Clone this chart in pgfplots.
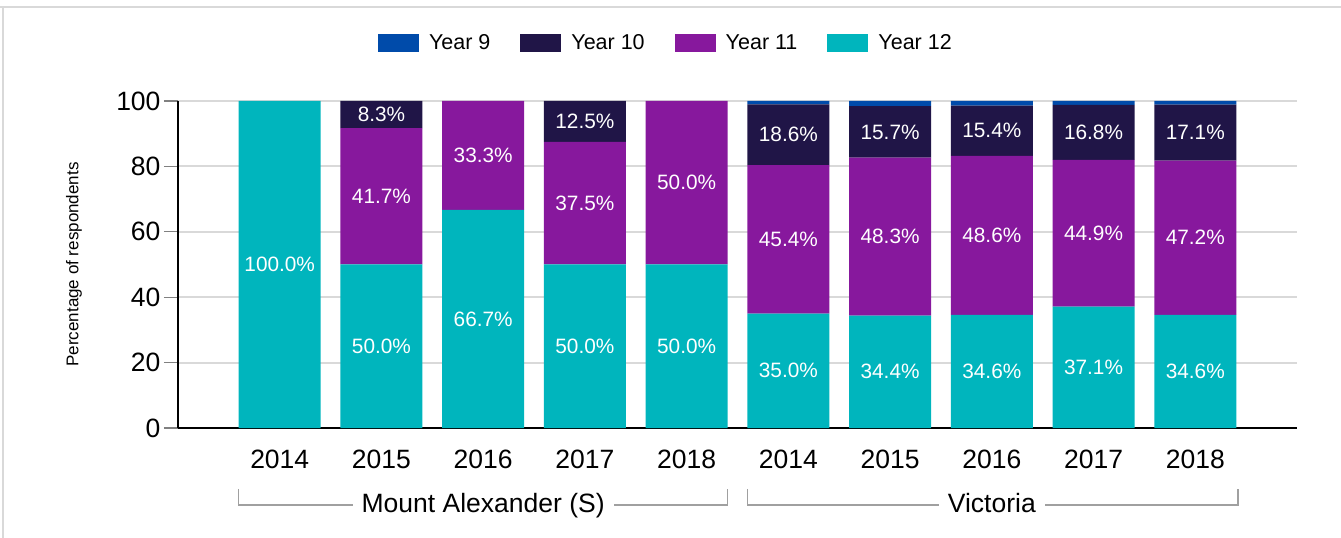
\documentclass[border=0pt]{standalone}
\usepackage{fontspec}
\setmainfont{Liberation Sans}
\usepackage{pgfplots}
\usepackage{pgfplotstable}
\pgfplotsset{compat=1.18}
\definecolor{yNine}{HTML}{004BAA}
\definecolor{yTen}{HTML}{201547}
\definecolor{yEleven}{HTML}{87189D}
\definecolor{yTwelve}{HTML}{00B5BD}
\definecolor{gridc}{HTML}{D9D9D9}
\definecolor{brk}{HTML}{A0A0A0}
\definecolor{tickc}{HTML}{808080}
\pgfplotstableread{
x y12 y11 y10 y9
0 100.0 0.0 0.0 0.0
1 50.0 41.7 8.3 0.0
2 66.7 33.3 0.0 0.0
3 50.0 37.5 12.5 0.0
4 50.0 50.0 0.0 0.0
5 35.0 45.4 18.6 1.0
6 34.4 48.3 15.7 1.6
7 34.6 48.6 15.4 1.4
8 37.1 44.9 16.8 1.2
9 34.6 47.2 17.1 1.1
}\datatable
\newcommand\lab[3]{\node[font=\fontsize{20.8}{24}\selectfont, text=white] at (axis cs:#1,#2) {#3};}
\pgfplotsset{common/.style={
  at={(178pt,110pt)}, anchor=south west,
  scale only axis, width=1119pt, height=327pt,
  clip=false,
  xmin=-1, xmax=10, ymin=0, ymax=100}}
\begin{document}
\begin{tikzpicture}[x=1pt,y=1pt]
\useasboundingbox (0,0) rectangle (1341,538);
\draw[gridc, line width=2.5pt] (0,531) -- (1341,531);
\draw[gridc, line width=2.5pt] (3,531) -- (3,0);
\begin{axis}[
  common,
  ybar stacked, bar width=0.806,
  axis x line*=bottom, axis y line*=left,
  x axis line style={line width=2.8pt, black},
  y axis line style={line width=2pt, black},
  xtick={0,...,9},
  xticklabels={2014,2015,2016,2017,2018,2014,2015,2016,2017,2018},
  xticklabel style={yshift=-4pt},
  x tick style={draw=none},
  major tick length=14pt,
  ytick={0,20,40,60,80,100},
  y tick style={tickc, line width=1.2pt},
  tick align=outside,
  extra x ticks={-1,1,3,5,7,9},
  extra x tick labels={},
  extra x tick style={major tick length=6pt, tick style={draw=tickc, line width=1.2pt}, grid=none},
  ymajorgrids,
  grid style={gridc, line width=2pt},
  tick label style={font=\fontsize{26.5}{30}\selectfont},
  /pgf/number format/assume math mode=true,
  ylabel={Percentage of respondents},
  ylabel style={at={(axis description cs:-0.093,0.5)}, anchor=center, font=\fontsize{17}{20}\selectfont},
  legend columns=4,
  reverse legend,
  legend image code/.code={\fill[#1] (0pt,-9pt) rectangle (41pt,9pt);},
  legend style={at={(axis description cs:0.436,1.177)}, anchor=center, draw=none, fill=none,
    font=\fontsize{21.5}{24}\selectfont,
    /tikz/every odd column/.append style={column sep=8pt},
    /tikz/every even column/.append style={column sep=28pt}},
]
\addplot[fill=yTwelve, draw=none] table[x=x, y=y12] {\datatable};
\addlegendentry{Year 12}
\addplot[fill=yEleven, draw=none] table[x=x, y=y11] {\datatable};
\addlegendentry{Year 11}
\addplot[fill=yTen, draw=none] table[x=x, y=y10] {\datatable};
\addlegendentry{Year 10}
\addplot[fill=yNine, draw=none] table[x=x, y=y9] {\datatable};
\addlegendentry{Year 9}
\draw[brk, line width=1.3pt] (axis cs:-0.405,-18.65) -- (axis cs:-0.405,-23.55) -- (axis cs:4.405,-23.55) -- (axis cs:4.405,-18.65);
\draw[brk, line width=1.3pt] (axis cs:4.595,-18.65) -- (axis cs:4.595,-23.55) -- (axis cs:9.42,-23.55) -- (axis cs:9.42,-18.65);
\end{axis}
\begin{axis}[common, hide axis]
\lab{0}{50}{100.0\%}
\lab{1}{25}{50.0\%}\lab{1}{70.85}{41.7\%}\lab{1}{95.85}{8.3\%}
\lab{2}{33.35}{66.7\%}\lab{2}{83.35}{33.3\%}
\lab{3}{25}{50.0\%}\lab{3}{68.75}{37.5\%}\lab{3}{93.75}{12.5\%}
\lab{4}{25}{50.0\%}\lab{4}{75}{50.0\%}
\lab{5}{17.5}{35.0\%}\lab{5}{57.7}{45.4\%}\lab{5}{89.7}{18.6\%}
\lab{6}{17.2}{34.4\%}\lab{6}{58.55}{48.3\%}\lab{6}{90.55}{15.7\%}
\lab{7}{17.3}{34.6\%}\lab{7}{58.9}{48.6\%}\lab{7}{90.9}{15.4\%}
\lab{8}{18.55}{37.1\%}\lab{8}{59.55}{44.9\%}\lab{8}{90.4}{16.8\%}
\lab{9}{17.3}{34.6\%}\lab{9}{58.2}{47.2\%}\lab{9}{90.35}{17.1\%}
\node[fill=white, inner xsep=9pt, inner ysep=2pt, anchor=base, font=\fontsize{26.5}{30}\selectfont] at (axis cs:2,-25.9) {Mount Alexander (S)};
\node[fill=white, inner xsep=9pt, inner ysep=2pt, anchor=base, font=\fontsize{26.5}{30}\selectfont] at (axis cs:7,-25.9) {Victoria};
\end{axis}
\end{tikzpicture}
\end{document}
